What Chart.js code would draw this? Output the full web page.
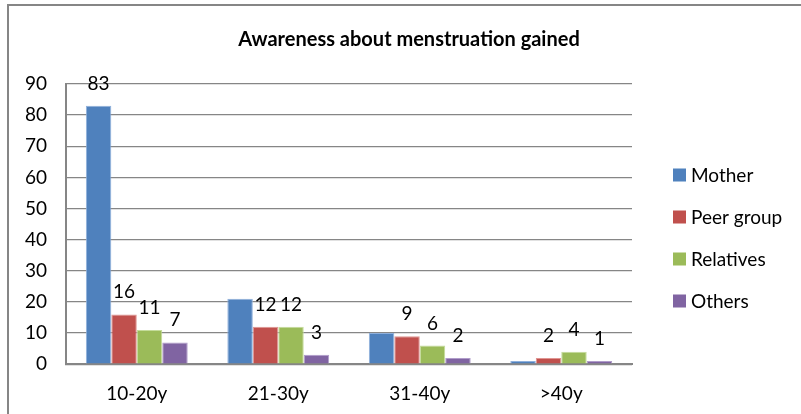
<!DOCTYPE html>
<html>
<head>
<meta charset="utf-8">
<script src="https://cdn.jsdelivr.net/npm/chart.js@4"></script>
<style>
    html, body { margin: 0; padding: 0; background: #fff; }
    #wrap { position: relative; width: 801px; height: 414px; overflow: hidden; }
    #frame { position: absolute; left: 7px; top: 4px; width: 820px; height: 440px; border: 2px solid #868686; box-sizing: border-box; }
    #chart { position: absolute; left: 0; top: 0; }
</style>
</head>
<body>
<div id="wrap">
    <div id="frame"></div>
    <canvas id="chart" width="801" height="414"></canvas>
</div>
<script>
// values
const categories = ['10-20y', '21-30y', '31-40y', '>40y'];
const mother = [83, 21, 10, 1];
const peerGroup = [16, 12, 9, 2];
const relatives = [11, 12, 6, 4];
const others = [7, 3, 2, 1];
const seriesNames = ['Mother', 'Peer group', 'Relatives', 'Others'];
// which value labels the original shows (mother only on the first group)
const labelShown = [
    [true, false, false, false],
    [true, true, true, true],
    [true, true, true, true],
    [true, true, true, true]
];
const yTicks = [0, 10, 20, 30, 40, 50, 60, 70, 80, 90];
const chartTitle = 'Awareness about menstruation gained';

const colors = ['#4F81BD', '#C0504D', '#9BBB59', '#8064A2'];
const edges = ['#8fb0dc', '#e09592', '#c4dc9a', '#b09cca'];
const font = 'Lato';

const valueLabels = {
    id: 'valueLabels',
    afterDatasetsDraw(chart) {
        const ctx = chart.ctx;
        ctx.save();
        ctx.font = '19px ' + font;
        ctx.fillStyle = '#000';
        ctx.textAlign = 'center';
        ctx.textBaseline = 'alphabetic';
        chart.data.datasets.forEach(function (ds, i) {
            chart.getDatasetMeta(i).data.forEach(function (bar, j) {
                if (!labelShown[i][j]) return;
                ctx.fillText(String(ds.data[j]), bar.x, bar.y - 16);
            });
        });
        ctx.restore();
    }
};

// title and legend drawn by hand so they sit where the original has them
const sideParts = {
    id: 'sideParts',
    afterDraw(chart) {
        const ctx = chart.ctx;
        const area = chart.chartArea;
        ctx.save();
        ctx.fillStyle = '#000';
        ctx.font = 'bold 20px ' + font;
        ctx.textAlign = 'center';
        ctx.textBaseline = 'alphabetic';
        ctx.fillText(chartTitle, 409, area.top - 38);

        ctx.font = '19px ' + font;
        ctx.textBaseline = 'middle';
        ctx.textAlign = 'left';
        chart.data.datasets.forEach(function (ds, i) {
            const cy = area.top + 91 + i * 42;
            const x = area.right + 41;
            ctx.fillStyle = ds.backgroundColor;
            ctx.fillRect(x, cy - 6.5, 13, 13);
            ctx.fillStyle = '#000';
            ctx.fillText(ds.label, x + 18, cy + 1);
        });
        ctx.restore();
    }
};

const seriesData = [mother, peerGroup, relatives, others];

new Chart(document.getElementById('chart'), {
    type: 'bar',
    data: {
        labels: categories,
        datasets: seriesData.map(function (d, i) {
            return {
                label: seriesNames[i],
                data: d,
                backgroundColor: colors[i],
                borderColor: edges[i],
                borderWidth: 1,
                categoryPercentage: 0.72,
                barPercentage: 1
            };
        })
    },
    options: {
        responsive: false,
        animation: false,
        devicePixelRatio: 1,
        layout: { padding: { left: 6, right: 169, top: 84, bottom: -9 } },
        plugins: {
            legend: { display: false },
            tooltip: { enabled: false },
            title: { display: false }
        },
        scales: {
            x: {
                grid: { display: false, drawTicks: false, tickLength: 0 },
                border: { display: true, color: '#868686', width: 2 },
                ticks: { color: '#000', font: { family: font, size: 19 }, padding: 18 }
            },
            y: {
                min: 0,
                max: 90,
                afterBuildTicks: function (axis) {
                    axis.ticks = yTicks.map(function (v) { return { value: v }; });
                },
                grid: { color: '#868686', lineWidth: 1.3, drawTicks: false, tickLength: 0 },
                border: { display: true, color: '#868686', width: 2 },
                ticks: { color: '#000', font: { family: font, size: 19 }, padding: 19 }
            }
        }
    },
    plugins: [valueLabels, sideParts]
});
</script>
</body>
</html>
